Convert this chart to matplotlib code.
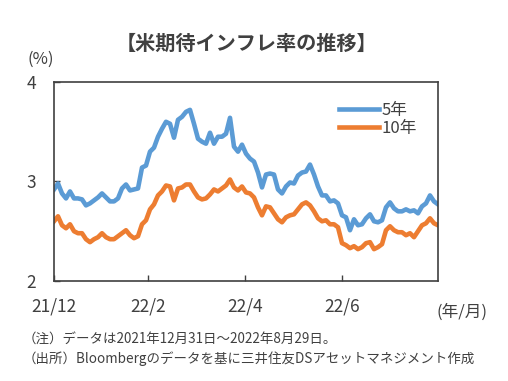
import pandas as pd
import matplotlib.pyplot as plt
import matplotlib.dates as mdates

plt.rcParams['font.family'] = ['Noto Sans CJK JP', 'DejaVu Sans']

# expected inflation (%), sampled evenly from 2021-12-31 to 2022-08-29
be5 = [2.92, 2.98, 2.88, 2.83, 2.90, 2.83, 2.83, 2.82, 2.76, 2.78,
       2.81, 2.84, 2.88, 2.84, 2.80, 2.80, 2.83, 2.93, 2.97, 2.91,
       2.92, 2.93, 3.14, 3.16, 3.30, 3.34, 3.45, 3.53, 3.60, 3.58,
       3.44, 3.62, 3.65, 3.70, 3.72, 3.58, 3.43, 3.40, 3.38, 3.49,
       3.38, 3.45, 3.45, 3.48, 3.64, 3.35, 3.30, 3.37, 3.28, 3.23,
       3.20, 3.09, 2.94, 3.07, 3.08, 3.07, 2.92, 2.88, 2.95, 2.99,
       2.98, 3.06, 3.09, 3.10, 3.17, 3.07, 2.95, 2.86, 2.86, 2.80,
       2.81, 2.78, 2.66, 2.64, 2.51, 2.62, 2.56, 2.57, 2.63, 2.67,
       2.60, 2.59, 2.61, 2.74, 2.79, 2.73, 2.70, 2.70, 2.72, 2.70,
       2.71, 2.68, 2.75, 2.78, 2.86, 2.80, 2.77]
be10 = [2.60, 2.65, 2.56, 2.53, 2.57, 2.50, 2.48, 2.48, 2.42, 2.39,
        2.42, 2.44, 2.48, 2.44, 2.42, 2.42, 2.45, 2.48, 2.51, 2.46,
        2.43, 2.45, 2.57, 2.61, 2.72, 2.77, 2.86, 2.90, 2.96, 2.95,
        2.81, 2.93, 2.94, 2.97, 2.97, 2.90, 2.84, 2.82, 2.83, 2.87,
        2.92, 2.90, 2.93, 2.96, 3.02, 2.94, 2.91, 2.95, 2.89, 2.88,
        2.84, 2.74, 2.66, 2.75, 2.74, 2.68, 2.62, 2.59, 2.64, 2.66,
        2.67, 2.72, 2.77, 2.79, 2.76, 2.70, 2.63, 2.60, 2.61, 2.57,
        2.57, 2.54, 2.38, 2.36, 2.33, 2.35, 2.32, 2.34, 2.38, 2.39,
        2.32, 2.34, 2.37, 2.51, 2.55, 2.51, 2.49, 2.49, 2.46, 2.48,
        2.44, 2.50, 2.56, 2.58, 2.63, 2.58, 2.56]
start, end = '2021-12-31', '2022-08-29'
tick_dates = ['2021-12-31', '2022-02-28', '2022-04-30', '2022-06-30']
tick_labels = ['21/12', '22/2', '22/4', '22/6']

dates = pd.date_range(start, end, periods=len(be5))
txt = '#404040'

fig = plt.figure(figsize=(5.08, 3.81), dpi=100)
ax = fig.add_axes([0.1063, 0.2625, 0.7559, 0.5223])
ax.plot(dates, be5, color='#5B9BD5', lw=3.3, label='5年', solid_joinstyle='round')
ax.plot(dates, be10, color='#ED7D31', lw=3.3, label='10年', solid_joinstyle='round')

ax.set_xlim(pd.Timestamp(start), pd.Timestamp(end))
ax.set_ylim(2, 4)
ax.set_yticks([2, 3, 4])
ax.set_xticks(pd.to_datetime(tick_dates))
ax.set_xticklabels(tick_labels)
ax.tick_params(direction='in', length=4, width=1, colors=txt, labelsize=12.5)
ax.tick_params(axis='y', pad=13)
ax.tick_params(axis='x', pad=12)
for s in ax.spines.values():
    s.set_color(txt)
    s.set_linewidth(1.2)

ax.legend(loc='upper right', bbox_to_anchor=(0.985, 0.975), frameon=False, fontsize=12,
          handlelength=2.4, handletextpad=0.2, labelspacing=0.05, labelcolor=txt)

fig.text(0.485, 0.887, '【米期待インフレ率の推移】', ha='center', va='center',
         fontsize=14.5, fontweight='bold', color=txt)
fig.text(0.081, 0.843, '(%)', ha='center', va='center', fontsize=12, color=txt)
fig.text(0.909, 0.181, '(年/月)', ha='center', va='center', fontsize=12, color=txt)
fig.text(0.045, 0.108, '（注）データは2021年12月31日～2022年8月29日。', ha='left', va='center',
         fontsize=9.7, color=txt)
fig.text(0.045, 0.058, '（出所）Bloombergのデータを基に三井住友DSアセットマネジメント作成',
         ha='left', va='center', fontsize=9.7, color=txt)

fig.savefig('out.png', dpi=100)
